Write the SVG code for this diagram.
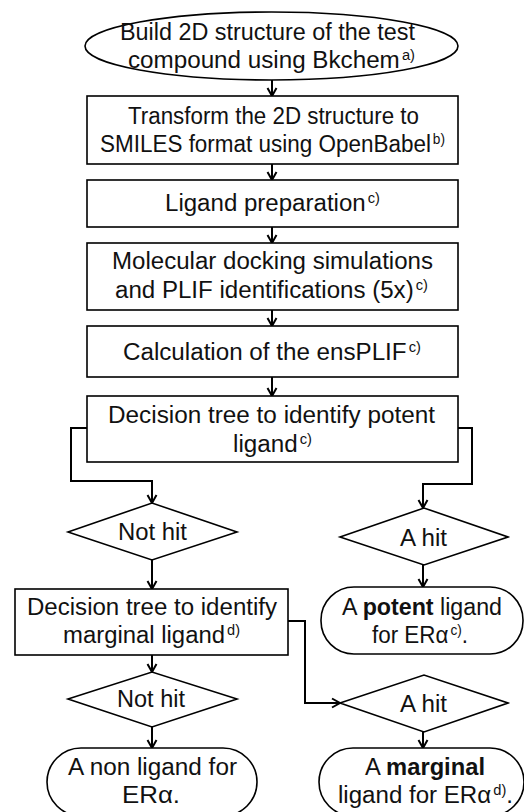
<svg xmlns="http://www.w3.org/2000/svg" width="524" height="812" viewBox="0 0 524 812">
<style>
.shape{fill:#fff;stroke:#000;stroke-width:1.6}
.conn{fill:none;stroke:#000;stroke-width:2}
text{font-family:"Liberation Sans",Arial,sans-serif;font-size:23px;fill:#111;text-anchor:middle}
.sup{font-size:14px}
.b{font-weight:bold}
</style>
<defs>
<marker id="ah" markerUnits="userSpaceOnUse" markerWidth="12" markerHeight="12" viewBox="0 0 12 12" refX="10" refY="6" orient="auto">
<path d="M2,1.5 L10,6 L2,10.5" fill="none" stroke="#000" stroke-width="2"/>
</marker>
</defs>
<rect width="524" height="812" fill="#fff"/>
<g id="connectors">
<line class="conn" x1="272" y1="80" x2="272" y2="96" marker-end="url(#ah)"/>
<line class="conn" x1="272" y1="164" x2="272" y2="180" marker-end="url(#ah)"/>
<line class="conn" x1="272" y1="227" x2="272" y2="243" marker-end="url(#ah)"/>
<line class="conn" x1="272" y1="310" x2="272" y2="326" marker-end="url(#ah)"/>
<line class="conn" x1="272" y1="377" x2="272" y2="396" marker-end="url(#ah)"/>
<polyline class="conn" points="87,428 71,428 71,481 152,481 152,503" marker-end="url(#ah)"/>
<polyline class="conn" points="458,428 472,428 472,484 423,484 423,508" marker-end="url(#ah)"/>
<line class="conn" x1="152" y1="560" x2="152" y2="589" marker-end="url(#ah)"/>
<line class="conn" x1="423" y1="565" x2="423" y2="587" marker-end="url(#ah)"/>
<line class="conn" x1="152" y1="655" x2="152" y2="672" marker-end="url(#ah)"/>
<polyline class="conn" points="288,621 305,621 305,703 340,703" marker-end="url(#ah)"/>
<line class="conn" x1="152" y1="727" x2="152" y2="748" marker-end="url(#ah)"/>
<line class="conn" x1="423" y1="732" x2="423" y2="748" marker-end="url(#ah)"/>
</g>
<g id="start">
<ellipse class="shape" cx="271.5" cy="46" rx="186.5" ry="34"/>
<text x="267.5" y="40" textLength="295" lengthAdjust="spacingAndGlyphs">Build 2D structure of the test</text>
<text x="271.5" y="68" textLength="287" lengthAdjust="spacingAndGlyphs">compound using Bkchem<tspan class="sup" dx="2" dy="-8">a)</tspan></text>
</g>
<g id="smiles">
<rect class="shape" x="87" y="96" width="371" height="68"/>
<text x="273.5" y="124" textLength="291" lengthAdjust="spacingAndGlyphs">Transform the 2D structure to</text>
<text x="272.5" y="152" textLength="345" lengthAdjust="spacingAndGlyphs">SMILES format using OpenBabel<tspan class="sup" dx="2" dy="-8">b)</tspan></text>
</g>
<g id="ligprep">
<rect class="shape" x="87" y="180" width="371" height="47"/>
<text x="272.5" y="211" textLength="215" lengthAdjust="spacingAndGlyphs">Ligand preparation<tspan class="sup" dx="2" dy="-8">c)</tspan></text>
</g>
<g id="docking">
<rect class="shape" x="87" y="243" width="371" height="67"/>
<text x="272.5" y="269" textLength="321" lengthAdjust="spacingAndGlyphs">Molecular docking simulations</text>
<text x="271.5" y="298" textLength="313" lengthAdjust="spacingAndGlyphs">and PLIF identifications (5x)<tspan class="sup" dx="2" dy="-8">c)</tspan></text>
</g>
<g id="ensplif">
<rect class="shape" x="87" y="326" width="371" height="51"/>
<text x="272" y="360" textLength="298" lengthAdjust="spacingAndGlyphs">Calculation of the ensPLIF<tspan class="sup" dx="2" dy="-8">c)</tspan></text>
</g>
<g id="tree1">
<rect class="shape" x="87" y="396" width="371" height="66"/>
<text x="271.5" y="423" textLength="327" lengthAdjust="spacingAndGlyphs">Decision tree to identify potent</text>
<text x="272.5" y="452" textLength="79" lengthAdjust="spacingAndGlyphs">ligand<tspan class="sup" dx="2" dy="-8">c)</tspan></text>
</g>
<g id="nothit1">
<polygon class="shape" points="68,532 152,503 237,532 152,560"/>
<text x="152.5" y="540" textLength="69" lengthAdjust="spacingAndGlyphs">Not hit</text>
</g>
<g id="ahit1">
<polygon class="shape" points="340,537 424,508 508,537 424,565"/>
<text x="423.5" y="546" textLength="47" lengthAdjust="spacingAndGlyphs">A hit</text>
</g>
<g id="tree2">
<rect class="shape" x="15" y="589" width="273" height="66"/>
<text x="152" y="615" textLength="250" lengthAdjust="spacingAndGlyphs">Decision tree to identify</text>
<text x="151.5" y="643" textLength="177" lengthAdjust="spacingAndGlyphs">marginal ligand<tspan class="sup" dx="2" dy="-8">d)</tspan></text>
</g>
<g id="potent">
<rect class="shape" x="321" y="587" width="202" height="67" rx="33" ry="33"/>
<text x="422" y="615" textLength="160" lengthAdjust="spacingAndGlyphs">A <tspan class="b">potent</tspan> ligand</text>
<text x="420" y="643" textLength="96" lengthAdjust="spacingAndGlyphs">for ERα<tspan class="sup" dx="2" dy="-8">c)</tspan><tspan dy="8">.</tspan></text>
</g>
<g id="nothit2">
<polygon class="shape" points="68,699 152,672 237,699 152,727"/>
<text x="151" y="707" textLength="68" lengthAdjust="spacingAndGlyphs">Not hit</text>
</g>
<g id="ahit2">
<polygon class="shape" points="340,703 424,675 508,703 424,732"/>
<text x="423.5" y="712" textLength="47" lengthAdjust="spacingAndGlyphs">A hit</text>
</g>
<g id="nonligand">
<rect class="shape" x="47" y="748" width="210" height="68" rx="34" ry="34"/>
<text x="152.5" y="775" textLength="169" lengthAdjust="spacingAndGlyphs">A non ligand for</text>
<text x="151" y="803" textLength="58" lengthAdjust="spacingAndGlyphs">ERα.</text>
</g>
<g id="marginal">
<rect class="shape" x="319" y="748" width="205" height="68" rx="34" ry="34"/>
<text x="425" y="775" textLength="120" lengthAdjust="spacingAndGlyphs">A <tspan class="b">marginal</tspan></text>
<text x="425.5" y="803" textLength="175" lengthAdjust="spacingAndGlyphs">ligand for ERα<tspan class="sup" dx="2" dy="-8">d)</tspan><tspan dy="8">.</tspan></text>
</g>
</svg>
